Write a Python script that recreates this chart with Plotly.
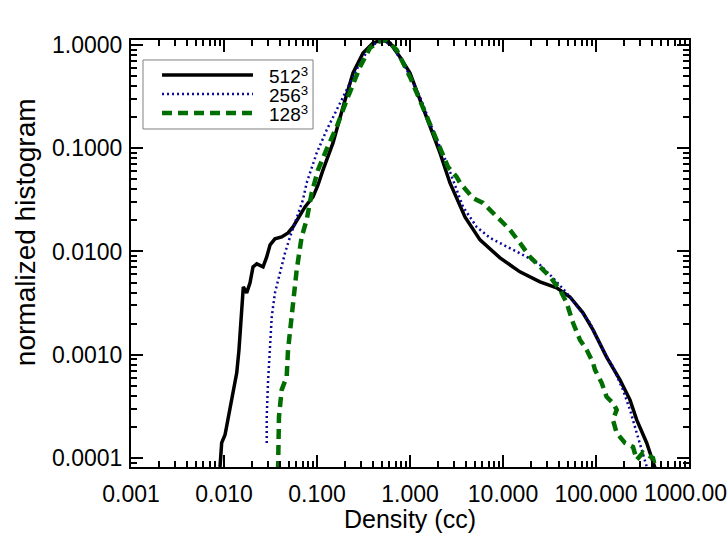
import plotly.graph_objects as go

# 512^3 run
x512 = [0.00906, 0.00944, 0.01026, 0.01161, 0.0125, 0.01371, 0.01449, 0.01549, 0.01613, 0.01754,
        0.01905, 0.0205, 0.0225, 0.0263, 0.0288, 0.0313, 0.0353, 0.0417, 0.0488, 0.0552,
        0.0656, 0.0743, 0.0906, 0.1025, 0.1161, 0.138, 0.1486, 0.1905, 0.244, 0.3126,
        0.400, 0.500, 0.610, 0.780, 1.0, 1.282, 1.640, 2.10, 2.69, 3.90,
        5.66, 9.29, 15.2, 25.0, 37.8, 52.5, 72.4, 92.9, 130, 181,
        232, 274, 351, 410, 442]
y512 = [8.2e-5, 1.40e-4, 1.68e-4, 3.13e-4, 4.57e-4, 6.68e-4, 1.115e-3, 2.72e-3, 4.54e-3, 3.97e-3,
        4.97e-3, 7.10e-3, 7.59e-3, 7.10e-3, 8.87e-3, 0.0116, 0.01324, 0.01384, 0.01514, 0.0173,
        0.0226, 0.0270, 0.0338, 0.0441, 0.0617, 0.0963, 0.1125, 0.251, 0.536, 0.837,
        1.046, 1.117, 1.046, 0.765, 0.536, 0.294, 0.161, 0.0901, 0.0461, 0.0216,
        0.01295, 8.67e-3, 6.35e-3, 5.08e-3, 4.44e-3, 3.63e-3, 2.55e-3, 1.74e-3, 9.5e-4, 5.71e-4,
        3.66e-4, 2.34e-4, 1.40e-4, 9.0e-5, 7.5e-5]

# 256^3 run
x256 = [0.0288, 0.0288, 0.0297, 0.0313, 0.0326, 0.0353, 0.0400, 0.0453, 0.0513, 0.0605,
        0.0706, 0.0774, 0.0877, 0.0993, 0.127, 0.163, 0.209, 0.290, 0.371, 0.453,
        0.513, 0.656, 0.922, 1.282, 1.766, 2.48, 3.72, 5.21, 7.24, 11.0,
        14.0, 18.0, 25.0, 34.5, 48.4, 67.3, 86.1, 119, 152, 195,
        232, 274, 320, 362]
y256 = [1.40e-4, 2.51e-4, 5.35e-4, 1.115e-3, 2.33e-3, 3.97e-3, 6.21e-3, 9.69e-3, 0.01384, 0.0216,
        0.0316, 0.0461, 0.0659, 0.090, 0.150, 0.235, 0.367, 0.669, 0.956, 1.069,
        1.117, 0.956, 0.573, 0.314, 0.150, 0.0721, 0.0270, 0.0173, 0.01354, 0.01108,
        9.91e-3, 8.87e-3, 7.42e-3, 5.55e-3, 3.97e-3, 2.72e-3, 2.04e-3, 1.115e-3, 7.64e-4, 4.57e-4,
        2.93e-4, 1.75e-4, 1.12e-4, 7.5e-5]

# 128^3 run
x128 = [0.0381, 0.039, 0.0417, 0.0472, 0.0488, 0.0521, 0.0552, 0.0605, 0.0684, 0.0774,
        0.0877, 0.1025, 0.127, 0.163, 0.209, 0.290, 0.371, 0.453, 0.561, 0.719,
        1.0, 1.380, 1.936, 2.56, 3.18, 3.45, 4.75, 6.09, 7.24, 9.29,
        11.9, 15.2, 19.5, 25.0, 32.0, 41.0, 48.4, 56.6, 67.3, 79.4,
        92.9, 97.5, 115, 130, 152, 167, 152, 167, 205, 250,
        274, 320, 410, 442]
y128 = [7.5e-5, 2.51e-4, 4.57e-4, 6.11e-4, 1.115e-3, 2.04e-3, 3.63e-3, 6.64e-3, 0.01384, 0.0202,
        0.0369, 0.0617, 0.098, 0.161, 0.294, 0.612, 0.935, 1.069, 1.117, 0.895,
        0.490, 0.251, 0.120, 0.0659, 0.0527, 0.0461, 0.0330, 0.0295, 0.0253, 0.0202,
        0.0162, 0.0121, 8.87e-3, 7.10e-3, 5.68e-3, 4.25e-3, 3.18e-3, 2.04e-3, 1.39e-3, 1.115e-3,
        8.35e-4, 7.14e-4, 5.35e-4, 3.91e-4, 3.42e-4, 2.93e-4, 2.34e-4, 1.75e-4, 1.40e-4, 1.28e-4,
        9.6e-5, 1.13e-4, 1.0e-4, 7.5e-5]

names = ["512<sup>3</sup>", "256<sup>3</sup>", "128<sup>3</sup>"]
colors = ["black", "#0a0a9a", "#006e00"]
widths = [3.5, 2.5, 4.5]
dashes = ["solid", "2px,3px", "10px,6px"]

xtickvals = [0.001, 0.01, 0.1, 1, 10, 100, 1000]
xticktext = ["0.001", "0.010", "0.100", "1.000", "10.000", "100.000", "1000.00"]
ytickvals = [0.0001, 0.001, 0.01, 0.1, 1]
yticktext = ["0.0001", "0.0010", "0.0100", "0.1000", "1.0000"]

FONT = "Liberation Sans, Arial, sans-serif"

fig = go.Figure()
for xs, ys, nm, c, w, d in zip([x512, x256, x128], [y512, y256, y128], names, colors, widths, dashes):
    fig.add_trace(go.Scatter(x=xs, y=ys, mode="lines", name=nm, showlegend=False,
                             line=dict(color=c, width=w, dash=d)))

axis_common = dict(
    type="log", showgrid=False, zeroline=False,
    showline=True, linecolor="black", linewidth=2, mirror="ticks",
    ticks="inside", ticklen=12, tickwidth=1.5, tickcolor="black",
    minor=dict(ticks="inside", ticklen=6, tickwidth=1.5, tickcolor="black",
               dtick="D1", showgrid=False),
    tickfont=dict(family=FONT, size=23, color="black"),
    automargin=False, ticklabeloverflow="allow",
)

# last x label is placed as an annotation so it can sit just inside the page edge
fig.update_xaxes(**axis_common, range=[-3, 3], tickmode="array",
                 tickvals=xtickvals, ticktext=xticktext[:-1] + [""], ticklabelstandoff=5)
fig.update_yaxes(**axis_common, range=[-4.087, 0.048], tickmode="array",
                 tickvals=ytickvals, ticktext=yticktext, ticklabelstandoff=2)

fig.add_annotation(text=xticktext[-1], xref="paper", yref="paper", x=1.0, y=-0.0609,
                   xanchor="center", yanchor="middle", xshift=-4, showarrow=False,
                   font=dict(family=FONT, size=23, color="black"))

# axis titles
fig.add_annotation(text="Density (cc)", xref="paper", yref="paper", x=0.5, y=-0.1218,
                   xanchor="center", yanchor="middle", showarrow=False,
                   font=dict(family=FONT, size=25, color="black"))
fig.add_annotation(text="normalized histogram", xref="paper", yref="paper", x=-0.19, y=0.55,
                   xanchor="center", yanchor="middle", showarrow=False, textangle=-90,
                   font=dict(family=FONT, size=28, color="black"))

# legend box drawn in paper coordinates
fig.add_shape(type="rect", xref="paper", yref="paper", x0=0.0215, x1=0.3262, y0=0.7916, y1=0.9532,
              line=dict(color="#808080", width=1), fillcolor="white", layer="above")
row_y = [0.918, 0.8735, 0.829]
for nm, c, w, d, ry in zip(names, colors, widths, dashes, row_y):
    fig.add_shape(type="line", xref="paper", yref="paper", x0=0.0556, x1=0.2186, y0=ry, y1=ry,
                  line=dict(color=c, width=w, dash=d), layer="above")
    fig.add_annotation(text=nm, xref="paper", yref="paper", x=0.2437, y=ry,
                       xanchor="left", yanchor="middle", showarrow=False, height=19,
                       font=dict(family=FONT, size=19, color="black"))

fig.update_layout(
    template="none",
    width=728, height=550,
    margin=dict(l=131, r=39, t=40, b=83, pad=0),
    paper_bgcolor="white", plot_bgcolor="white",
    showlegend=False,
)

fig.write_html("out.html", config={"displayModeBar": False},
               post_script="document.body.style.margin='0px';")
